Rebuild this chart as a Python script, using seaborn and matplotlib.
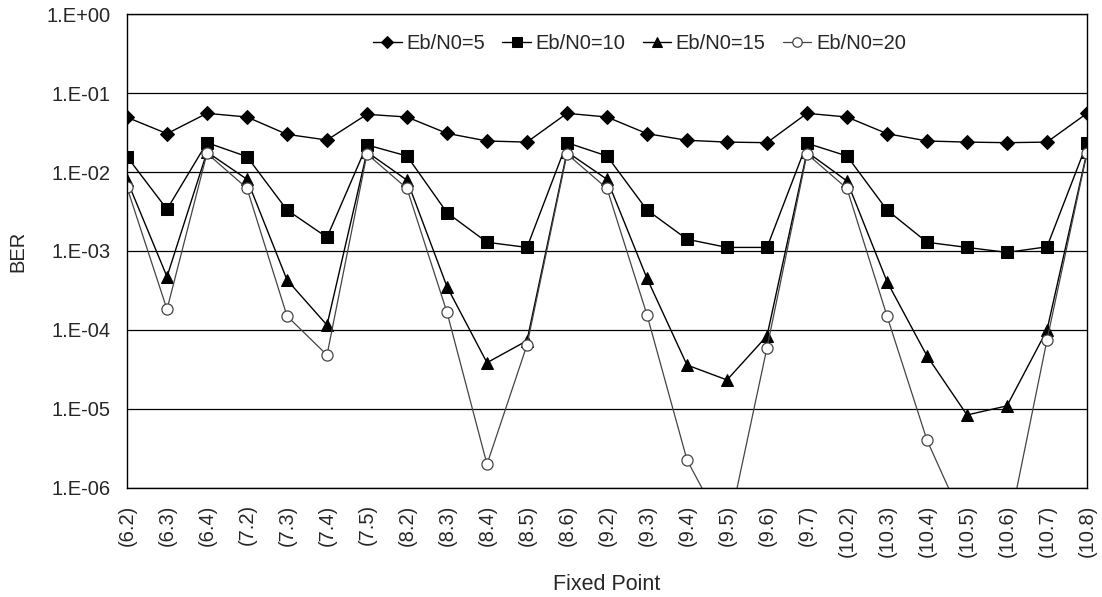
import numpy as np
import pandas as pd
import matplotlib
matplotlib.use('Agg')
import matplotlib.pyplot as plt
from matplotlib.ticker import FixedLocator, FuncFormatter, NullLocator
import seaborn as sns

# categories on the x axis
fixed_points = ['(6.2)', '(6.3)', '(6.4)', '(7.2)', '(7.3)', '(7.4)', '(7.5)',
                '(8.2)', '(8.3)', '(8.4)', '(8.5)', '(8.6)',
                '(9.2)', '(9.3)', '(9.4)', '(9.5)', '(9.6)', '(9.7)',
                '(10.2)', '(10.3)', '(10.4)', '(10.5)', '(10.6)', '(10.7)', '(10.8)']

# BER values
ber_5 = [0.0495, 0.0307, 0.0556, 0.0499, 0.0301, 0.0255, 0.054,
         0.0499, 0.031, 0.0248, 0.024, 0.0556,
         0.0499, 0.0307, 0.0253, 0.024, 0.0236, 0.0556,
         0.0499, 0.0307, 0.0248, 0.024, 0.0236, 0.024, 0.0556]
ber_10 = [0.0157, 0.00338, 0.0236, 0.0157, 0.00331, 0.00149, 0.0221,
          0.016, 0.00306, 0.00129, 0.00111, 0.0236,
          0.016, 0.00331, 0.00141, 0.00111, 0.00111, 0.0232,
          0.016, 0.00331, 0.00129, 0.00111, 0.00096, 0.00113, 0.0232]
ber_15 = [0.0079, 0.000472, 0.018, 0.0081, 0.00043, 0.000115, 0.018,
          0.0079, 0.000353, 3.84e-5, 7.3e-5, 0.018,
          0.0081, 0.00045, 3.59e-5, 2.32e-5, 8.4e-5, 0.018,
          0.0077, 0.00041, 4.67e-5, 8.35e-6, 1.09e-5, 9.97e-5, 0.018]
ber_20 = [0.0064, 0.000182, 0.0173, 0.00623, 0.00015, 4.8e-5, 0.017,
          0.0062, 0.000167, 1.98e-6, 6.44e-5, 0.017,
          0.0062, 0.000155, 2.25e-6, 2.5e-7, 5.95e-5, 0.017,
          0.0062, 0.00015, 4.0e-6, 3.0e-7, 2.4e-7, 7.45e-5, 0.0175]

series = {
    'Eb/N0=5': ber_5,
    'Eb/N0=10': ber_10,
    'Eb/N0=15': ber_15,
    'Eb/N0=20': ber_20,
}

sns.set_style('white')
plt.rcParams['font.family'] = ['Liberation Sans', 'DejaVu Sans']
FS = 14.5

fig = plt.figure(figsize=(11.02, 5.97), dpi=100)
ax = fig.add_axes([127 / 1102, 1 - 487.7 / 597, 960 / 1102, (487.7 - 14.3) / 597])

idx = np.arange(len(fixed_points))
styles = {
    'Eb/N0=5': dict(marker='D', markersize=7, color='black', markerfacecolor='black',
                    markeredgecolor='black', linewidth=1.0),
    'Eb/N0=10': dict(marker='s', markersize=8, color='black', markerfacecolor='black',
                     markeredgecolor='black', linewidth=1.0),
    'Eb/N0=15': dict(marker='^', markersize=8.5, color='black', markerfacecolor='black',
                     markeredgecolor='black', linewidth=1.0),
    'Eb/N0=20': dict(marker='o', markersize=8, color='#444444', markerfacecolor='white',
                     markeredgecolor='#444444', linewidth=0.9, markeredgewidth=0.9),
}

for name, vals in series.items():
    df = pd.DataFrame({'x': idx, 'ber': vals})
    sns.lineplot(data=df, x='x', y='ber', ax=ax, label=name, **styles[name])

ax.set_yscale('log')
ax.set_ylim(1e-6, 1)
ax.set_xlim(0, len(fixed_points) - 1)

ax.yaxis.set_major_locator(FixedLocator([10.0 ** k for k in range(-6, 1)]))
ax.yaxis.set_minor_locator(NullLocator())
ax.yaxis.set_major_formatter(FuncFormatter(lambda v, p: f"1.E{int(round(np.log10(v))):+03d}"))
ax.grid(axis='y', color='black', linewidth=0.9)
ax.grid(axis='x', visible=False)

ax.set_xticks(idx)
ax.set_xticklabels(fixed_points, rotation=90, fontsize=FS)
ax.tick_params(axis='x', direction='in', length=6, width=0.9, color='black', pad=12)
ax.tick_params(axis='y', length=0, pad=12, labelsize=FS)

for s in ax.spines.values():
    s.set_color('black')
    s.set_linewidth(1.0)

ax.set_ylabel('BER', fontsize=FS)
ax.yaxis.set_label_coords(-0.104, 0.5)
ax.set_xlabel('Fixed Point', fontsize=FS + 1)
ax.xaxis.set_label_coords(0.5, -0.182)

ax.legend(loc='center', bbox_to_anchor=(0.534, 0.939), ncol=4, frameon=False,
          fontsize=FS, handlelength=1.4, handletextpad=0.25, columnspacing=0.85,
          markerscale=0.85)

plt.savefig('out.png', dpi=100)
